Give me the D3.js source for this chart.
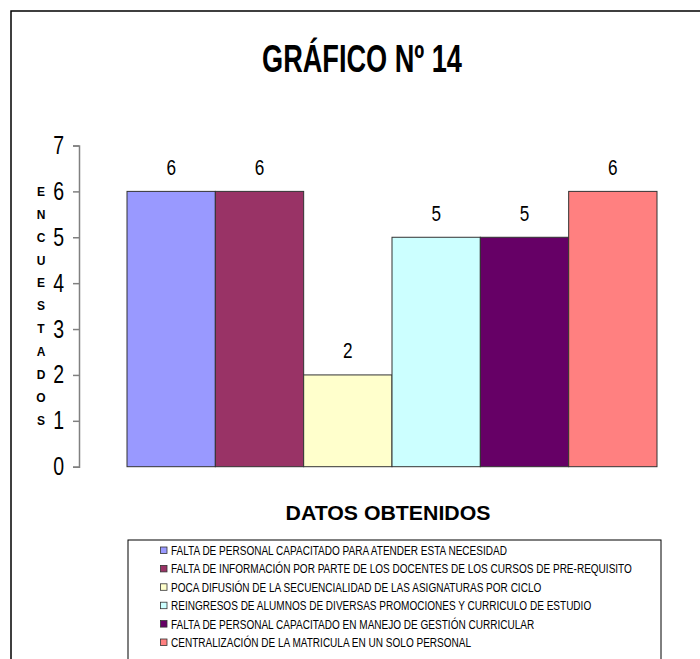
<!DOCTYPE html>
<html><head><meta charset="utf-8">
<script src="https://cdn.jsdelivr.net/npm/d3@7"></script>
<style>body{margin:0;background:#fff}svg{display:block}</style>
</head><body>
<svg id="c" width="700" height="659"></svg>
<script>
const categories = [
  "FALTA DE PERSONAL CAPACITADO PARA ATENDER ESTA NECESIDAD",
  "FALTA DE INFORMACIÓN POR PARTE DE LOS DOCENTES DE LOS CURSOS DE PRE-REQUISITO",
  "POCA DIFUSIÓN DE LA SECUENCIALIDAD DE LAS ASIGNATURAS POR CICLO",
  "REINGRESOS DE ALUMNOS DE DIVERSAS PROMOCIONES Y CURRICULO DE ESTUDIO",
  "FALTA DE PERSONAL CAPACITADO EN MANEJO DE GESTIÓN CURRICULAR",
  "CENTRALIZACIÓN DE LA MATRICULA EN UN SOLO PERSONAL"
];
const values = [6, 6, 2, 5, 5, 6];
const colors = ["#9999FF", "#993366", "#FFFFCC", "#CCFFFF", "#660066", "#FF8080"];
const yTicks = [0, 1, 2, 3, 4, 5, 6, 7];
const titleText = "GRÁFICO Nº 14";
const xTitle = "DATOS OBTENIDOS";
const yTitle = "ENCUESTADOS";

const svg = d3.select("#c");
const sans = "'Liberation Sans',Arial,sans-serif";
const NARROW = 0.78;

// outer frame
svg.append("rect").attr("x", 11).attr("y", 11).attr("width", 720).attr("height", 720)
  .attr("fill", "none").attr("stroke", "#000").attr("stroke-width", 1.5);

const y = d3.scaleLinear().domain([0, 7]).range([466.7, 145.5]);
const x = d3.scaleBand().domain(categories).range([127, 657]).paddingInner(0).paddingOuter(0);

function fitWidth(sel, w, cx) {
  const n = sel.node().getComputedTextLength();
  const k = w / n;
  sel.attr("transform", `translate(${cx},0) scale(${k},1) translate(${-cx},0)`);
}

// title
const t = svg.append("text").attr("x", 362).attr("y", 72.5).attr("text-anchor", "middle")
  .attr("font-family", sans).attr("font-weight", "bold").attr("font-size", 38).text(titleText);
fitWidth(t, 200, 362);

// bars
svg.append("g").selectAll("rect").data(categories).join("rect")
  .attr("x", d => x(d)).attr("width", x.bandwidth())
  .attr("y", (d, i) => y(values[i])).attr("height", (d, i) => y(0) - y(values[i]))
  .attr("fill", (d, i) => colors[i]).attr("stroke", "#333").attr("stroke-width", 1);

// value labels
svg.append("g").selectAll("text").data(categories).join("text")
  .attr("x", d => x(d) + x.bandwidth() / 2).attr("y", (d, i) => y(values[i]) - 16.5)
  .attr("text-anchor", "middle").attr("font-family", sans).attr("font-size", 22)
  .attr("transform", d => { const cx = x(d) + x.bandwidth() / 2; return `translate(${cx},0) scale(${NARROW},1) translate(${-cx},0)`; })
  .text((d, i) => values[i]);

// y axis
const ax = svg.append("g").attr("transform", "translate(79,0)")
  .call(d3.axisLeft(y).tickValues(yTicks).tickSize(6).tickSizeOuter(6).tickPadding(9).tickFormat(d3.format("d")));
ax.select(".domain").attr("stroke", "#808080").attr("stroke-width", 1.5);
ax.selectAll(".tick line").attr("stroke", "#808080").attr("stroke-width", 1.5);
ax.selectAll(".tick text").attr("font-family", sans).attr("font-size", 25).attr("fill", "#000")
  .attr("transform", `translate(-15,0) scale(${NARROW},1) translate(15,0)`);

// y title stacked letters
const step = (y(1) - y(6)) / 10;
svg.append("g").selectAll("text").data(yTitle.split("")).join("text")
  .attr("x", 41).attr("y", (d, i) => y(6) + i * step).attr("dy", "0.36em")
  .attr("text-anchor", "middle").attr("font-family", sans).attr("font-weight", "bold")
  .attr("font-size", 12).text(d => d);

// x title
const xt = svg.append("text").attr("x", 388).attr("y", 520).attr("text-anchor", "middle")
  .attr("font-family", sans).attr("font-weight", "bold").attr("font-size", 19.5).text(xTitle);
fitWidth(xt, 205, 388);

// legend
svg.append("rect").attr("x", 128).attr("y", 540).attr("width", 533).attr("height", 200)
  .attr("fill", "none").attr("stroke", "#000").attr("stroke-width", 1);
const lg = svg.append("g");
const rows = lg.selectAll("g").data(categories).join("g")
  .attr("transform", (d, i) => `translate(160,${550.5 + i * 18.4})`);
rows.append("rect").attr("x", 0.5).attr("y", -3.5).attr("width", 6.5).attr("height", 6.5)
  .attr("fill", (d, i) => colors[i]).attr("stroke", "#333").attr("stroke-width", 0.8);
const lt = rows.append("text").attr("x", 11).attr("y", 0).attr("dy", "0.36em")
  .attr("font-family", sans).attr("font-size", 12.5).text(d => d);
let maxW = 0;
lt.each(function () { maxW = Math.max(maxW, this.getComputedTextLength()); });
const k = 461 / maxW;
lt.attr("transform", `translate(11,0) scale(${k},1) translate(-11,0)`);
</script>
</body></html>
